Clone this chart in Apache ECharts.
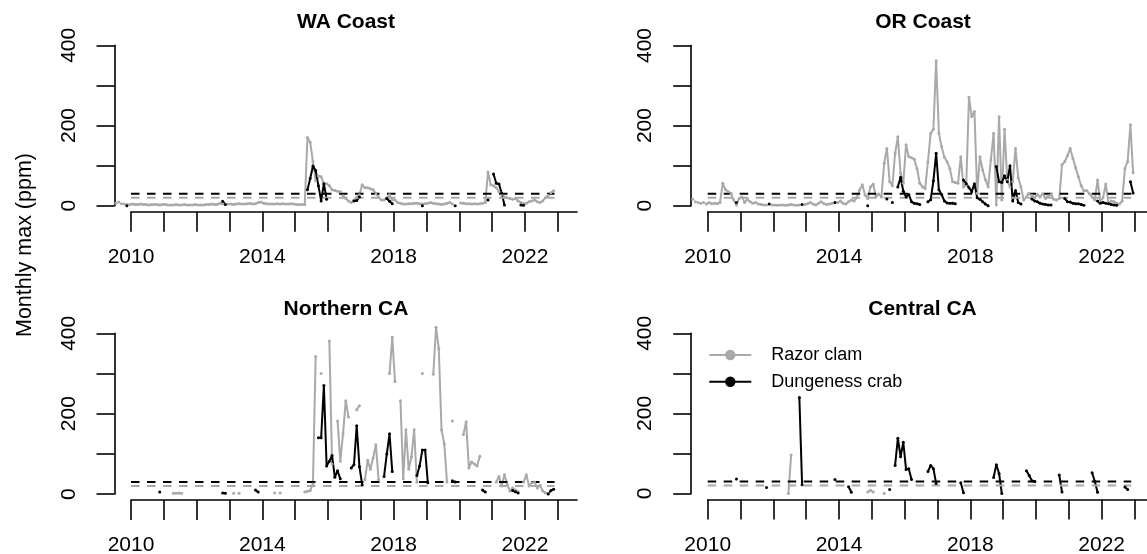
<!DOCTYPE html>
<html>
<head>
<meta charset="utf-8">
<script src="https://cdn.jsdelivr.net/npm/echarts@6.0.0/dist/echarts.min.js"></script>
<style>
  html, body { margin: 0; padding: 0; background: #ffffff; }
  #chart { width: 1147px; height: 554px; }
</style>
</head>
<body>
<div id="chart"></div>
<script>
const _ = null;

// Panels and labels
const regions = ['WA Coast', 'OR Coast', 'Northern CA', 'Central CA'];
const speciesNames = ['Razor clam', 'Dungeness crab'];
const crabActionLevel = 30;
const razorActionLevel = 20;
const actionLevelSpan = [2010, 2022.9];
const yearTicks = [2010, 2011, 2012, 2013, 2014, 2015, 2016, 2017, 2018, 2019, 2020, 2021, 2022, 2023];
const yearLabels = [2010, 2014, 2018, 2022];
const ppmTicks = [0, 100, 200, 300, 400];
const ppmLabels = [0, 200, 400];

// Monthly maxima (ppm) as runs: [months after July 2009, [values ...]]; null = no sample
const waRazor = [[0, [
  6, 9, 5, 4, 3, 3, 4, 3, 3, 4,
  3, 3, 2, 3, 3, 3, 2, 3, 3, 2,
  2, 2, 3, 2, 2, 3, 2, 2, 2, 3,
  2, 2, 2, 3, 3, 4, 3, 3, 6, 5,
  3, 4, 4, 3, 4, 5, 4, 4, 5, 6,
  4, 5, 8, 9, 6, 5, 4, 4, 4, 5,
  4, 5, 4, 4, 5, 4, 3, 3, 3, 3,
  170, 158, 110, 62, 74, 72, 55, 55, 50, 40,
  38, 36, 35, 25, 18, 12, 8, 14, 21, 27,
  52, 45, 45, 42, 40, 30, 22, 14, 14, 20,
  27, 15, 14, 8, 6, 4, 4, 5, 5, 6,
  6, 5, 4, 5, 6, 8, 6, 5, 4, 3,
  4, 6, 8, 4, _, _, 7, 6, 5, 5,
  4, 5, 4, 5, 6, 8, 84, 52, 50, 45,
  35, 28, 22, 20, 18, 16, 18, 12, 8, 5,
  6, 10, 12, 14, 10, 8, 12, 20, 26, 32,
  37]]];
const waCrab = [[4, [0]], [39, [11, 3]], [70, [40, 68, 99, 88, 50, 12, 55, 16]], [87, [12, 13, 22]],
  [99, [18, 11, 5]], [112, [0]], [124, [0]], [136, [14]], [138, [79, 56, 54, 31, 2]], [148, [2, 1]]];

const orRazor = [[0, [
  16, 10, 8, 6, 8, 4, 8, 5, 6, 5,
  8, 56, 40, 35, 30, 14, 2, 18, 22, 8,
  16, 10, 6, 8, 4, 3, 2, 2, _, 2,
  2, 1, 2, 2, 1, 2, 3, 2, 1, 2,
  _, 3, 5, 8, 4, 2, 6, 10, 5, 3,
  4, 6, _, 8, 12, 6, 4, 10, 14, 12,
  20, 39, 52, 27, 18, 47, 54, 22, 29, 22,
  106, 143, 60, 50, 131, 172, 81, 56, 152, 122,
  120, 116, 93, 56, 47, 43, 110, 181, 191, 362,
  181, 147, 121, 110, 93, 60, 58, 56, 122, 47,
  52, 271, 222, 235, 31, 122, 89, 65, 47, 114,
  181, 2, 222, 14, 191, 64, 47, 60, 143, 70,
  47, 14, 22, 30, 26, 20, 28, 22, 30, 18,
  25, 28, 16, 14, 18, 102, 110, 125, 143, 118,
  95, 72, 50, 37, 38, 30, 22, 14, 64, 10,
  20, 54, 6, 12, 10, 6, 4, 12, 93, 110,
  202, 82]]];
const orCrab = [[16, [8]], [28, [4]], [40, [3]], [52, [8]], [64, [0]], [71, [17]], [73, [8]],
  [75, [47, 71, 36, 22, 28, 10, 6, 5, 3]], [86, [10, 15, 62, 131, 40, 28, 12, 7, 6, 6, 5]],
  [99, [64, 55, 45, 35, 55, 20, 16, 10, 4, 0]], [111, [98, 60, 58, 75, 60, 100, 12, 38, 8, 4]],
  [124, [17, 12, 10, 6, 4, 3, 2, 2]], [136, [18, 10, 9, 6, 5, 5, 3, 1]],
  [148, [12, 6, 8, 6, 5, 3, 2, 1]], [160, [60, 32]]];

const ncaRazor = [[21, [2, 2, 3, 2]], [43, [2]], [45, [2]], [58, [3]], [60, [3]],
  [69, [5, 7, 9, 25, 342]], [75, [300]], [78, [381, 75]], [81, [182, 82, 150, 232, 192]],
  [88, [210, 220]], [91, [36, 84, 62, 90, 123, 36]], [100, [300, 390, 280]],
  [104, [232, 38, 160, 62, 92, 160, 30]], [112, [300]], [116, [298, 415, 362, 160, 125, 30]],
  [123, [182]], [127, [148, 180, 65, 80, 75, 70, 94]], [139, [30, 44, 20, 48, 25, 8, 15, 10, 6]],
  [149, [30, 48, 20, 28, 30, 15, 22, 8, 3, 2]]];
const ncaCrab = [[16, [5]], [39, [3, 2]], [51, [10, 5]], [74, [140, 140, 270, 70, 82, 96, 42, 58, 38]],
  [86, [65, 73, 170, 68, 23]], [98, [44, 100, 150, 56]], [110, [46, 70, 110, 110, 28]],
  [123, [33, 30]], [134, [10, 5]], [145, [9, 6, 3]], [158, [0, 9, 12]]];

const ccaRazor = [[35, [0, 96]], [64, [4, 8, 4]], [70, [0]]];
const ccaCrab = [[16, [36]], [27, [15]], [39, [240, 22]], [52, [35]], [57, [17, 3]], [72, [10]],
  [74, [70, 138, 92, 128, 60, 62, 35]], [86, [55, 70, 62, 25]], [98, [27, 2]],
  [110, [40, 72, 50, 0]], [122, [57, 45, 32, 30]], [134, [46, 4]], [146, [52, 30, 3]], [158, [16, 10]]];

const razorByRegion = [waRazor, orRazor, ncaRazor, ccaRazor];
const crabByRegion = [waCrab, orCrab, ncaCrab, ccaCrab];

// ---- drawing ----
const FONT = '"Liberation Sans", Arial, Helvetica, sans-serif';
const GRAY = '#A9A9A9';
const BLACK = '#000000';
const X_MAX = 2023.585;
const YEAR_PX = 32.83;

// Plot boxes: left edge at 2010, top at 400 ppm, height down to 0 ppm
const boxes = [
  { left: 131,   top: 45.3,  height: 160.4, titleX: 346, titleTop: 10 },
  { left: 707.7, top: 45.5,  height: 160.2, titleX: 923, titleTop: 10 },
  { left: 131,   top: 333.3, height: 160.8, titleX: 346, titleTop: 297.5 },
  { left: 707.7, top: 333.3, height: 160.2, titleX: 922.5, titleTop: 297.5 }
];

function monthToYear(k) { return 2009 + (6.5 + k) / 12; }

function toPoints(runs) {
  const pts = [];
  runs.forEach(function (run, r) {
    const k0 = run[0], vals = run[1];
    if (r > 0) pts.push([monthToYear(k0 - 0.5), '-']);
    vals.forEach(function (v, j) { pts.push([monthToYear(k0 + j), v === null ? '-' : v]); });
  });
  return pts;
}

const grid = boxes.map(function (b) {
  return { left: b.left, top: b.top, width: (X_MAX - 2010) * YEAR_PX, height: b.height,
           containLabel: false, outerBoundsMode: 'none' };
});

const axisStroke = { color: BLACK, width: 1.6 };

const xAxis = boxes.map(function (b, i) {
  return {
    type: 'value', gridIndex: i, min: 2010, max: X_MAX, offset: 6,
    axisLine: { show: true, onZero: false, lineStyle: axisStroke },
    axisTick: { show: true, inside: false, length: 20, customValues: yearTicks, lineStyle: axisStroke },
    axisLabel: { show: true, customValues: yearLabels, margin: 35, fontSize: 21, lineHeight: 21,
                 color: BLACK, fontFamily: FONT, formatter: function (v) { return String(v); } },
    splitLine: { show: false }
  };
});

const yAxis = boxes.map(function (b, i) {
  return {
    type: 'value', gridIndex: i, min: 0, max: 400, offset: 16.5,
    axisLine: { show: true, onZero: false, lineStyle: axisStroke },
    axisTick: { show: true, inside: false, length: 18, customValues: ppmTicks, lineStyle: axisStroke },
    axisLabel: { show: true, customValues: ppmLabels, rotate: 90, margin: 35, fontSize: 21, lineHeight: 21,
                 color: BLACK, fontFamily: FONT, formatter: function (v) { return String(v); } },
    splitLine: { show: false }
  };
});

const series = [];
regions.forEach(function (region, i) {
  [[razorByRegion[i], GRAY, speciesNames[0]], [crabByRegion[i], BLACK, speciesNames[1]]].forEach(function (s) {
    series.push({
      type: 'line', name: s[2], xAxisIndex: i, yAxisIndex: i,
      data: toPoints(s[0]), connectNulls: false, clip: false,
      symbol: 'circle', symbolSize: 3, showSymbol: true, showAllSymbol: true,
      lineStyle: { color: s[1], width: 2 }, itemStyle: { color: s[1] },
      emphasis: { disabled: true }, silent: true, animation: false
    });
  });
  [[crabActionLevel, BLACK], [razorActionLevel, GRAY]].forEach(function (lvl) {
    series.push({
      type: 'line', name: 'action level ' + lvl[0], xAxisIndex: i, yAxisIndex: i,
      data: [[actionLevelSpan[0], lvl[0]], [actionLevelSpan[1], lvl[0]]],
      symbol: 'none', clip: false,
      lineStyle: { color: lvl[1], width: 2, type: [8.5, 7.5] },
      emphasis: { disabled: true }, silent: true, animation: false, z: 3
    });
  });
});

const option = {
  backgroundColor: '#ffffff',
  animation: false,
  textStyle: { fontFamily: FONT },
  title: regions.map(function (r, i) {
    return { text: r, left: boxes[i].titleX, top: boxes[i].titleTop, textAlign: 'center', padding: 0,
             textStyle: { fontSize: 21, fontWeight: 'bold', color: BLACK, fontFamily: FONT, lineHeight: 24 } };
  }),
  legend: {
    data: speciesNames, left: 708.3, top: 345, orient: 'vertical', padding: 0,
    itemWidth: 42, itemHeight: 13, itemGap: 6.7, selectedMode: false,
    textStyle: { fontSize: 18, lineHeight: 20, color: BLACK, fontFamily: FONT, padding: [0, 0, 0, 15] }
  },
  grid: grid,
  xAxis: xAxis,
  yAxis: yAxis,
  series: series,
  graphic: [{
    type: 'text', x: 25.5, y: 245, rotation: Math.PI / 2, silent: true,
    style: { text: 'Monthly max (ppm)', font: '21.5px ' + FONT, fill: BLACK, align: 'center', verticalAlign: 'middle' }
  }]
};

const chart = echarts.init(document.getElementById('chart'), null, { renderer: 'canvas', width: 1147, height: 554 });
chart.setOption(option);
</script>
</body>
</html>
